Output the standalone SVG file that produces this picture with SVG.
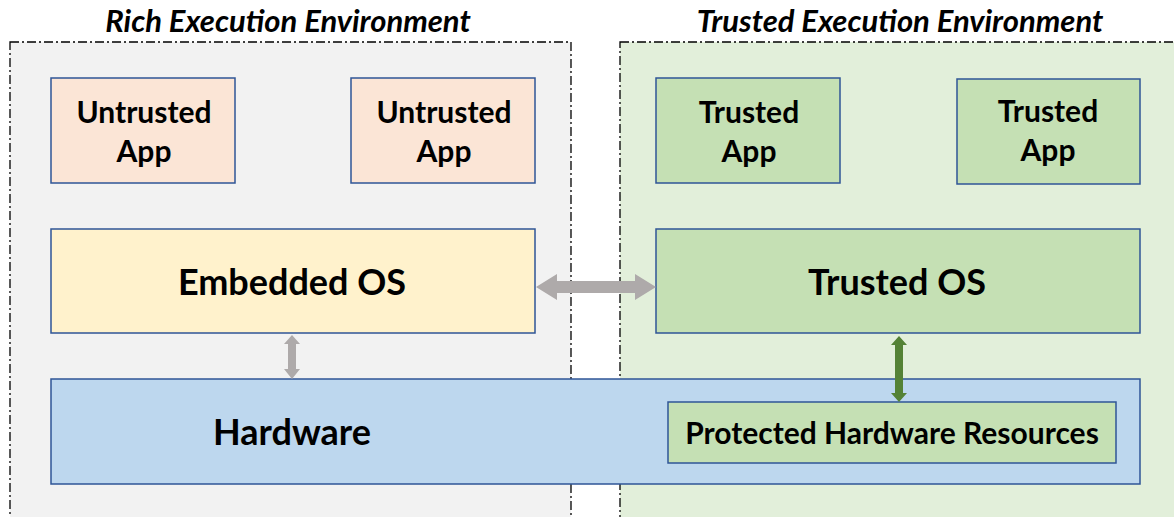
<svg xmlns="http://www.w3.org/2000/svg" width="1174" height="517" viewBox="0 0 1174 517">
<style>
.env{stroke:#000;stroke-width:1.3;stroke-dasharray:9 3 2 3}
.box{stroke:#2f5597;stroke-width:1.5}
.t{font-family:Lato,"Open Sans","Liberation Sans",sans-serif;font-weight:bold;fill:#000;text-anchor:middle}
.title{font-size:31px;font-style:italic}
.s{font-size:30px}
.l{font-size:36px}
</style>
<rect width="1174" height="517" fill="#fff"/>
<g id="ree">
<rect class="env" x="10" y="42" width="561" height="480" fill="#f2f2f2"/>
<text class="t title" x="288" y="32">Rich Execution Environment</text>
</g>
<g id="tee">
<rect class="env" x="620" y="42" width="560" height="480" fill="#e2efda"/>
<text class="t title" x="900" y="32">Trusted Execution Environment</text>
</g>
<g id="untrusted1"><rect class="box" x="51" y="78" width="184" height="105" fill="#fbe5d6"/><text class="t s" x="144" y="123">Untrusted</text><text class="t s" x="144" y="162">App</text></g>
<g id="untrusted2"><rect class="box" x="351" y="78" width="184" height="105" fill="#fbe5d6"/><text class="t s" x="444" y="123">Untrusted</text><text class="t s" x="444" y="162">App</text></g>
<g id="trusted1"><rect class="box" x="656" y="78" width="184" height="105" fill="#c5e0b4"/><text class="t s" x="749" y="123">Trusted</text><text class="t s" x="749" y="162">App</text></g>
<g id="trusted2"><rect class="box" x="957" y="79" width="183" height="105" fill="#c5e0b4"/><text class="t s" x="1048" y="122">Trusted</text><text class="t s" x="1048" y="161">App</text></g>
<g id="embeddedos"><rect class="box" x="51" y="229" width="484" height="104" fill="#fff2cc"/><text class="t l" x="292" y="295">Embedded OS</text></g>
<g id="trustedos"><rect class="box" x="656" y="229" width="484" height="104" fill="#c5e0b4"/><text class="t l" x="897" y="295">Trusted OS</text></g>
<g id="hardware"><rect class="box" x="51" y="379" width="1089" height="105" fill="#bdd7ee"/><text class="t l" x="292" y="445">Hardware</text></g>
<g id="protected"><rect class="box" x="668" y="402" width="448" height="61" fill="#c5e0b4"/><text class="t s" x="892" y="444">Protected Hardware Resources</text></g>
<g id="connectors">
<polygon fill="#aeaaaa" points="536,287 557,274 557,281 635,281 635,274 656,287 635,300 635,293 557,293 557,300"/>
<polygon fill="#aeaaaa" points="292,335 300,344 296,344 296,369 300,369 292,379 284,369 288,369 288,344 284,344"/>
<polygon fill="#548235" points="899,336 907,345 903,345 903,393 907,393 899,402 891,393 895,393 895,345 891,345"/>
</g>
</svg>
